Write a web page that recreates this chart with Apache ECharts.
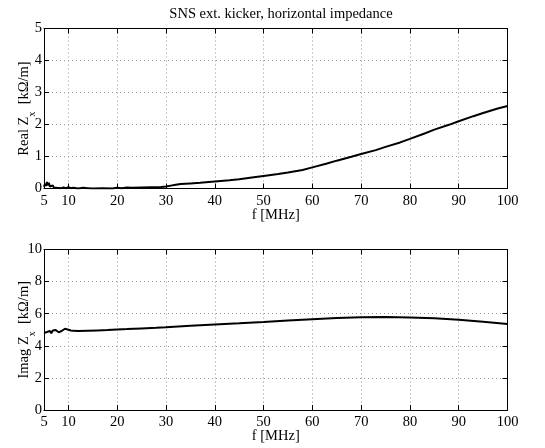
<!DOCTYPE html>
<html><head><meta charset="utf-8">
<script src="https://cdn.jsdelivr.net/npm/echarts@6/dist/echarts.min.js"></script>
<style>html,body{margin:0;padding:0;background:#fff}#c{width:545px;height:448px}</style>
</head><body><div id="c"></div>
<script>
// ---- data ----
const title = 'SNS ext. kicker, horizontal impedance';
const xTicks = [5, 10, 20, 30, 40, 50, 60, 70, 80, 90, 100];
const yTicksReal = [0, 1, 2, 3, 4, 5];
const yTicksImag = [0, 2, 4, 6, 8, 10];

const freqReal = [5.0,5.2,5.4,5.6,5.8,6.0,6.2,6.4,6.6,6.8,7.0,7.3,7.6,8.0,8.5,9.0,9.5,10,10.5,11,12,13,14,15,17,19,20,21,22,23,25,27,29,30,31,32,33,35,37,40,43,45,48,50,53,55,58,60,63,65,68,70,73,75,78,80,83,85,88,90,93,95,98,100];
const realZ = [0.05,0.15,0.08,0.20,0.10,0.18,0.06,0.12,0.04,0.10,0.03,0.07,0.02,0.04,0.01,0.03,0.01,0.04,0.01,0.02,0.00,0.02,0.01,0.00,0.01,0.00,0.02,0.01,0.03,0.02,0.03,0.04,0.05,0.06,0.09,0.12,0.14,0.16,0.18,0.22,0.26,0.29,0.35,0.39,0.45,0.50,0.58,0.66,0.78,0.87,0.99,1.08,1.20,1.30,1.44,1.55,1.72,1.84,1.99,2.10,2.26,2.36,2.50,2.58];

const freqImag = [5.0,5.3,5.6,5.9,6.2,6.5,6.8,7.1,7.4,7.7,8.0,8.3,8.6,9.0,9.3,9.6,10,10.5,11,12,14,16,18,20,22,25,28,30,35,40,45,50,55,60,65,70,75,80,85,90,95,100];
const imagZ = [4.80,4.68,4.86,4.74,4.92,4.78,4.96,4.84,4.98,4.88,4.84,4.78,4.92,4.96,5.06,5.12,5.00,4.95,4.93,4.92,4.94,4.96,4.98,5.02,5.04,5.08,5.12,5.15,5.25,5.33,5.40,5.48,5.57,5.66,5.73,5.78,5.79,5.77,5.71,5.62,5.50,5.36];

// ---- chart ----
const FONT = '"Liberation Serif","DejaVu Serif",serif';
const FS = 14.5;
const pairs = (xs, ys) => xs.map((x, i) => [x, ys[i]]);
const chart = echarts.init(document.getElementById('c'), null, {renderer: 'canvas'});

const grids = [
  {left: 44, top: 28.5, width: 463.5, height: 160},
  {left: 44, top: 249.5, width: 463.5, height: 160.5}
];

function xAxes(gi) {
  return [
    {type: 'value', gridIndex: gi, min: 5, max: 100, position: 'bottom',
     name: 'f [MHz]', nameLocation: 'middle', nameGap: 19, nameMoveOverlap: false,
     nameTextStyle: {fontFamily: FONT, fontSize: FS, color: '#000'},
     axisLine: {show: true, onZero: false, lineStyle: {color: '#000', width: 1}},
     axisTick: {show: true, inside: true, length: 5, customValues: xTicks, lineStyle: {color: '#000'}},
     axisLabel: {show: true, customValues: xTicks, fontFamily: FONT, fontSize: FS, color: '#000', margin: 5, hideOverlap: false},
     splitLine: {show: true, lineStyle: {color: '#999', type: [1, 3], width: 1}}},
    {type: 'value', gridIndex: gi, min: 5, max: 100, position: 'top',
     axisLine: {show: true, onZero: false, lineStyle: {color: '#000', width: 1}},
     axisTick: {show: true, inside: true, length: 5, customValues: xTicks, lineStyle: {color: '#000'}},
     axisLabel: {show: false}, splitLine: {show: false}}
  ];
}
function yAxes(gi, max, interval, nameMain) {
  return [
    {type: 'value', gridIndex: gi, min: 0, max: max, interval: interval, position: 'left',
     name: '{a|' + nameMain + ' Z}{s|x}{a|  [kΩ/m]}', nameLocation: 'middle', nameGap: 12, nameRotate: 90,
     nameMoveOverlap: false,
     nameTextStyle: {fontFamily: FONT, color: '#000',
       rich: {a: {fontFamily: FONT, fontSize: FS, color: '#000', lineHeight: 18, verticalAlign: 'bottom'},
              s: {fontFamily: FONT, fontSize: 10, color: '#000', lineHeight: 18, verticalAlign: 'bottom', padding: [0, 0, -5, 0]}}},
     axisLine: {show: true, onZero: false, lineStyle: {color: '#000', width: 1}},
     axisTick: {show: true, inside: true, length: 5, lineStyle: {color: '#000'}},
     axisLabel: {show: true, fontFamily: FONT, fontSize: FS, color: '#000', margin: 2},
     splitLine: {show: true, lineStyle: {color: '#999', type: [1, 3], width: 1}}},
    {type: 'value', gridIndex: gi, min: 0, max: max, interval: interval, position: 'right',
     axisLine: {show: true, onZero: false, lineStyle: {color: '#000', width: 1}},
     axisTick: {show: true, inside: true, length: 5, lineStyle: {color: '#000'}},
     axisLabel: {show: false}, splitLine: {show: false}}
  ];
}

const option = {
  animation: false,
  backgroundColor: '#fff',
  title: {text: title, left: 276, top: 2, textAlign: 'center',
          textStyle: {fontFamily: FONT, fontSize: 14.5, fontWeight: 'normal', color: '#000'}},
  grid: grids,
  xAxis: [...xAxes(0), ...xAxes(1)],
  yAxis: [...yAxes(0, 5, 1, 'Real'), ...yAxes(1, 10, 2, 'Imag')],
  series: [
    {type: 'line', xAxisIndex: 0, yAxisIndex: 0, data: pairs(freqReal, realZ), showSymbol: false,
     lineStyle: {color: '#000', width: 2}, smooth: false},
    {type: 'line', xAxisIndex: 2, yAxisIndex: 2, data: pairs(freqImag, imagZ), showSymbol: false,
     lineStyle: {color: '#000', width: 2}, smooth: false}
  ]
};
chart.setOption(option);
</script></body></html>
